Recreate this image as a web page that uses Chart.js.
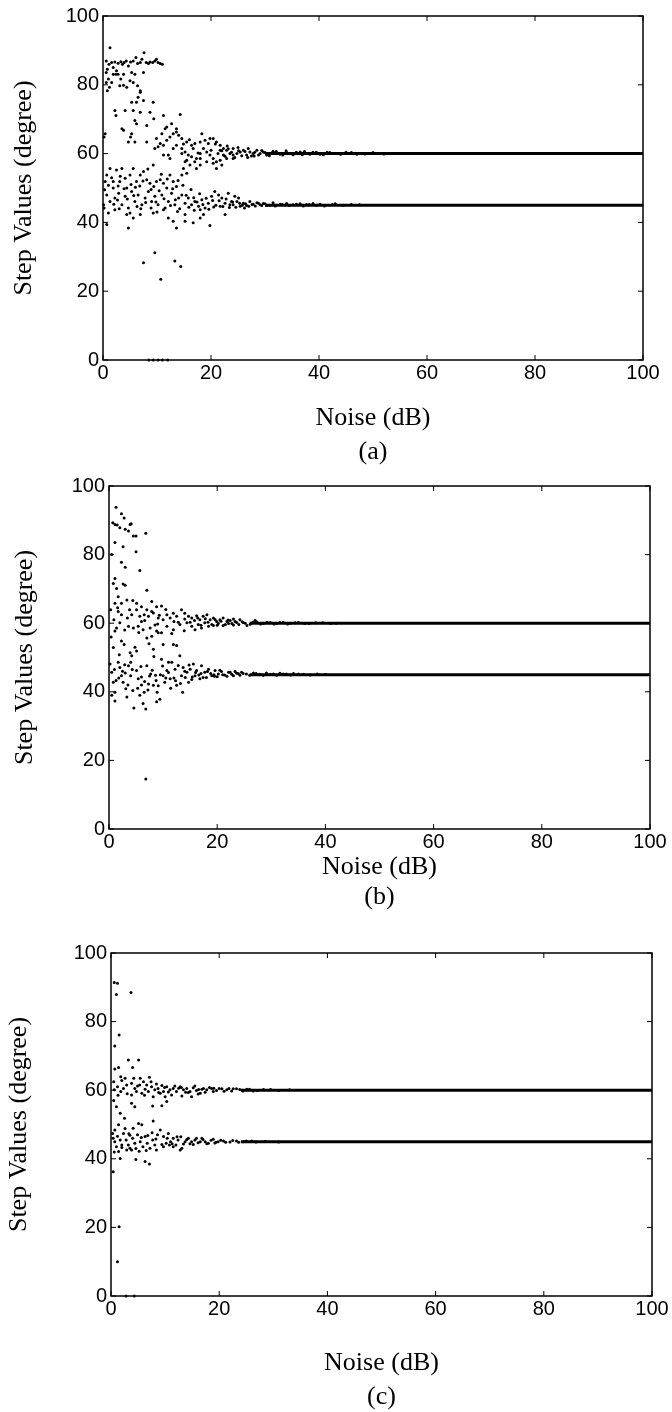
<!DOCTYPE html>
<html>
<head>
<meta charset="utf-8">
<script src="https://cdn.jsdelivr.net/npm/chart.js@4.4.1/dist/chart.umd.min.js"></script>
<style>
  html, body { margin: 0; padding: 0; background: #fff; overflow: hidden; }
  body { width: 672px; height: 1412px; position: relative; }
  .panel { position: absolute; left: 0; width: 672px; }
</style>
</head>
<body>
<div class="panel" style="top:0;height:490px"><canvas id="chartA"></canvas></div>
<div class="panel" style="top:470px;height:470px"><canvas id="chartB"></canvas></div>
<div class="panel" style="top:935px;height:490px"><canvas id="chartC"></canvas></div>
<script>
// axis ticks
const xTicks = [0, 20, 40, 60, 80, 100];
const yTicks = [0, 20, 40, 60, 80, 100];
// the two values every run settles on
const levels = [60, 45];
// noise level (dB) from which the estimates sit on the levels
const settleA = 30;
const settleB = 26;
const settleC = 24;

// (noise dB, step value degree)
const pointsA = [
  [0.6,86.9],[0.8,84.5],[1.1,86.0],[1.3,90.8],[1.6,86.5],[1.9,85.0],[2.2,86.6],[2.5,84.1],[2.8,86.3],[3.3,86.7],
  [3.6,86.0],[3.9,86.5],[4.3,86.9],[4.7,85.5],[5.1,86.6],[5.6,86.9],[6.1,87.9],[6.4,86.2],[6.9,86.5],[7.2,87.4],
  [7.6,89.3],[8.0,86.5],[8.4,86.2],[8.7,86.6],[9.2,86.5],[9.6,86.9],[9.9,87.4],[10.2,86.5],[10.6,86.2],[11.0,86.0],
  [0.6,80.7],[0.8,78.3],[1.2,79.3],[1.6,80.7],[1.9,83.1],[2.4,83.1],[2.8,83.1],[3.3,81.7],[3.8,83.1],[4.4,79.3],
  [5.0,81.2],[5.3,83.6],[5.9,83.1],[6.4,79.7],[6.9,78.3],[7.5,83.6],[0.6,83.6],[1.0,81.7],[3.1,79.7],[3.8,79.9],[5.6,80.7],
  [6.9,77.8],[6.5,76.4],[5.3,74.9],[6.2,74.9],[7.5,75.4],[9.3,74.9],[4.1,72.5],[2.2,72.5],[5.6,72.5],[6.9,72.0],
  [2.4,71.1],[8.7,72.0],[5.9,69.6],[6.2,68.7],[8.1,68.2],[9.4,70.1],[11.2,71.1],[14.3,71.4],[3.5,67.2],[3.8,66.8],
  [5.3,65.8],[5.1,64.8],[4.7,63.4],[5.9,63.4],[11.8,67.7],[12.7,68.7],[13.6,67.2],[0.4,65.8],[0.2,64.8],[8.1,63.4],
  [10.9,65.8],[11.5,67.2],
  [9.9,64.4],[10.6,62.9],[11.2,62.4],[11.8,63.9],[12.4,64.8],[13.0,65.8],[13.6,66.3],[14.0,65.3],[14.6,64.4],[15.5,63.4],
  [16.4,62.4],[17.0,62.9],[18.0,63.4],[18.9,63.9],[19.5,62.9],[20.4,64.4],[21.0,63.4],[21.7,62.4],[22.3,61.5],[22.9,61.0],
  [24.1,61.5],[25.4,60.5],[9.6,61.5],[10.2,62.0],[11.2,59.6],[12.1,59.6],[13.0,61.5],[13.6,62.4],[14.6,61.5],[15.2,60.5],
  [15.8,59.6],[16.4,59.1],[17.3,58.6],[18.0,60.0],[18.6,61.5],[19.2,60.5],[19.8,59.6],[20.4,58.6],[21.0,57.6],[21.7,58.1],
  [22.3,59.6],[22.9,58.6],[23.5,60.0],[24.1,59.6],[12.4,58.6],[15.5,58.1],[16.7,61.5],[18.3,65.8],[19.8,64.4],[21.7,61.0],
  [22.0,56.7],[21.0,55.7],[20.4,57.2],[19.2,57.6],[18.0,56.7],[15.2,57.6],[14.6,60.0],[17.3,55.7],[24.1,58.6],[24.8,60.0],
  [26.0,61.0],[26.6,59.6],[27.2,60.5],[27.8,60.0],[28.5,61.0],[29.1,60.0],[29.7,60.5],[30.3,59.6],[31.5,60.7],[32.8,59.8],
  [34.0,60.3],[35.2,59.7],[36.5,60.5],[37.7,60.0],[38.9,60.4],[40.2,59.8],[42.0,60.3],[44.0,59.8],[46.0,60.3],[48.5,59.9],
  [25.0,61.8],[26.8,58.9],[28.0,59.3],[23.0,62.2],[20.0,61.0],[17.6,60.2],[16.0,64.0],[14.9,62.8],
  [20.8,62.8],[21.3,60.0],[22.0,60.8],[22.6,59.2],[23.2,61.4],[23.8,60.4],[24.4,58.9],[25.1,60.8],[25.7,59.4],[26.3,60.6],
  [26.9,61.5],[27.5,59.3],[28.1,60.4],[28.8,59.6],[29.4,60.9],[30.0,60.3],[30.8,59.4],[31.2,60.2],[32.1,60.6],[33.3,59.6],
  [33.9,60.8],[34.6,60.0],[35.8,60.4],[36.9,59.7],[37.3,60.6],[38.3,59.8],[39.5,60.4],[40.8,59.7],[41.5,60.4],[43.0,60.0],
  [45.0,60.4],[47.0,59.8],[50.0,60.3],[52.0,59.9],
  [0.4,51.9],[0.7,53.8],[1.3,55.7],[1.9,51.9],[2.5,55.2],[3.1,51.9],[3.5,55.7],[4.1,52.8],[4.4,50.0],[5.0,53.8],
  [5.6,55.7],[6.2,51.9],[6.9,53.8],[7.5,54.8],[8.1,52.4],[8.7,51.4],[9.3,56.7],[9.9,51.9],[10.6,52.4],[11.2,51.4],
  [11.8,50.0],[12.4,53.8],[13.0,51.9],[13.6,50.4],[14.6,53.8],[14.9,55.7],[15.5,54.3],[16.1,56.7],[17.0,57.6],[18.0,58.6],
  [0.7,48.0],[1.3,46.1],[1.9,50.0],[2.2,47.1],[2.9,48.5],[3.5,45.1],[4.1,47.6],[4.7,44.2],[5.3,49.0],[5.9,46.1],
  [6.5,48.0],[7.2,45.1],[7.8,47.1],[8.4,49.0],[9.0,46.1],[9.6,47.6],[10.2,45.1],[10.9,48.0],[11.5,44.2],[12.1,46.1],
  [12.7,48.5],[13.3,45.1],[14.0,47.1],[14.6,48.0],[15.2,45.6],[15.8,47.1],[16.4,45.1],[17.0,46.1],[17.7,44.7],[18.3,46.6],
  [18.9,44.2],[19.5,45.6],[20.1,47.6],[20.7,49.0],[21.4,48.0],[22.0,47.1],[22.6,45.6],[23.2,48.5],[23.8,46.1],
  [0.1,45.1],[0.2,44.2],[1.0,42.7],[2.2,43.7],[4.4,42.3],[5.0,42.7],[5.6,41.3],[6.9,42.3],[9.3,42.7],[11.2,43.7],
  [12.1,41.3],[13.0,40.3],[13.6,38.4],[15.2,42.3],[18.0,41.3],[18.6,42.3],[19.8,39.1],[18.0,43.7],[4.7,38.4],[0.7,39.4],
  [15.2,40.3],[16.7,39.9],[2.8,50.6],[6.0,50.2],[8.9,49.6],[3.0,44.0],[7.0,44.0],[10.0,43.0],[13.8,43.2],[16.9,43.5],
  [0.3,49.5],[1.0,50.8],[1.6,53.0],[2.0,45.3],[2.7,46.5],[3.2,53.4],[3.9,49.8],[4.5,46.8],[5.2,51.0],[5.7,47.8],
  [6.3,44.6],[6.8,50.6],[7.4,52.0],[7.9,45.8],[8.3,55.5],[8.9,44.2],[9.4,50.4],[9.8,45.9],[10.4,49.2],[10.8,54.0],
  [11.3,46.9],[11.9,52.6],[12.5,44.9],[12.9,49.8],[13.4,46.6],[13.9,52.2],[14.2,44.0],[14.8,50.8],[15.4,47.9],[15.9,44.4],
  [16.3,49.6],[16.8,47.2],[17.4,45.9],[17.9,48.3],[18.5,45.2],[19.1,47.0],[19.6,43.8],[20.3,46.4],[20.9,45.0],[21.5,46.3],
  [22.2,44.6],[22.8,46.8],[23.4,44.3],[24.0,45.9],[24.6,44.4],[25.3,45.6],[25.8,45.0],[26.4,45.4],[27.0,44.7],[27.6,45.2],
  [28.2,44.8],[28.8,45.6],[29.4,44.9],[30.0,45.4],[30.9,45.0],[31.9,44.8],[33.2,45.2],[34.5,44.9],[35.8,45.3],[37.1,44.8],
  [38.2,45.2],[39.6,45.0],[41.0,44.8],[42.5,45.2],[44.5,45.0],[47.5,45.1],
  [24.1,45.1],[24.8,46.1],[25.4,44.7],[26.0,45.6],[26.6,44.9],[27.2,46.1],[27.8,45.3],[28.5,45.7],[29.1,45.1],[29.7,45.5],
  [30.3,44.9],[31.5,45.7],[32.8,45.3],[34.0,45.5],[35.2,45.1],[36.5,45.4],[37.7,45.2],[38.9,45.5],[40.2,45.3],[43.0,45.4],
  [46.0,45.2],[22.6,42.3],[21.7,44.7],[23.5,45.1],[24.4,47.6],[25.1,47.1],[26.2,44.2],[20.5,44.5],
  [7.5,28.3],[9.6,31.2],[10.7,23.5],[13.3,28.8],[14.4,27.2],
  [8.5,0],[9.3,0],[10.2,0],[11.0,0],[12.0,0]
];

// (noise dB, step value degree)
const pointsB = [
  [1.3,93.8],[2.3,91.9],[2.8,90.7],[0.7,89.3],[1.1,88.8],[1.5,88.6],[2.0,87.8],[3.0,87.4],[3.6,86.9],[3.9,88.8],
  [4.1,89.0],[4.5,85.4],[5.0,85.4],[6.8,86.2],[1.1,83.5],[2.6,82.3],[5.0,80.8],[0.5,80.0],[2.3,77.8],[3.0,76.3],
  [5.7,75.4],[1.1,73.0],[0.8,71.6],[2.6,71.4],[3.0,71.1],[1.4,70.1],[7.0,69.6],[1.7,67.7],[1.1,65.8],[7.9,66.3],[0.3,63.9],
  [3.3,66.8],[4.4,66.6],[5.1,65.8],[6.0,64.8],[7.0,63.9],[7.9,63.4],[8.8,64.8],[9.7,65.0],[1.7,63.4],[2.3,62.5],
  [3.8,63.9],[4.2,62.5],[5.1,63.9],[5.7,62.0],[6.5,62.5],[7.3,62.0],[8.2,63.0],[9.1,61.5],[10.0,61.0],[10.7,62.5],
  [11.3,61.5],[11.9,62.9],[12.5,62.0],[13.4,63.9],[14.0,62.9],[14.7,62.0],[15.3,61.5],[16.2,62.2],[16.8,61.0],[17.4,62.0],
  [18.1,62.5],[18.7,61.0],[19.3,61.5],[19.9,60.5],[20.5,61.0],[21.1,61.5],[21.8,60.5],[22.4,60.8],[23.0,61.2],[23.6,60.2],
  [24.2,61.0],[2.0,60.1],[3.6,59.1],[4.5,58.6],[5.4,59.1],[6.3,58.1],[7.6,58.6],[8.8,57.7],[9.7,57.2],[10.7,59.1],
  [11.9,58.1],[13.1,59.6],[14.4,60.1],[15.3,59.1],[15.9,58.1],[16.5,59.6],[17.1,58.6],[17.7,60.1],[18.4,59.1],[19.3,59.3],
  [20.2,59.9],[21.1,59.3],[22.1,59.9],[23.0,59.5],[1.4,58.6],[1.1,57.7],[7.0,55.7],[7.9,56.2],[9.1,57.2],[10.0,53.8],
  [8.2,52.4],[0.8,52.9],[2.3,54.8],[2.8,53.8],[3.9,51.4],[4.2,50.5],[5.1,51.9],[9.7,49.5],[8.3,50.3],[11.9,53.8],[12.5,53.5],
  [24.8,60.2],[26.1,59.7],[27.3,60.4],[28.5,59.9],[29.8,60.2],[31.0,59.9],[32.2,60.3],[33.5,60.0],[35.0,60.2],[37.0,59.9],
  [39.5,60.1],[42.0,60.0],[25.5,59.3],[27.0,60.8],[12.0,60.5],[14.0,61.2],[6.0,60.5],[9.0,59.8],
  [15.0,60.3],[15.8,60.8],[16.4,61.5],[17.0,59.4],[17.8,61.3],[18.3,60.3],[19.0,59.6],[19.6,61.1],[20.0,59.4],[20.7,60.6],
  [21.5,59.6],[22.0,60.9],[22.7,59.9],[23.3,60.5],[24.0,59.6],[24.6,60.4],[25.2,60.0],[26.6,60.3],[28.0,59.8],[29.2,60.3],
  [30.5,59.8],[31.6,60.2],[33.0,59.8],[34.4,60.1],[36.2,59.9],[38.2,60.1],[41.0,59.9],
  [1.9,50.8],[2.9,58.0],[3.4,61.5],[4.8,53.0],[5.5,57.3],[6.6,60.8],[7.4,54.0],[8.5,59.5],[9.3,62.3],[10.5,64.0],
  [11.6,57.0],[12.8,60.3],[13.9,57.8],[0.4,56.0],[0.9,61.0],[1.6,64.5],[2.3,65.8],
  [0.2,48.1],[0.5,45.7],[0.8,42.8],[1.1,39.9],[1.1,37.3],[1.7,48.6],[2.0,47.1],[2.3,44.7],[2.6,42.8],[3.1,40.9],
  [3.3,38.5],[3.6,47.6],[4.0,44.7],[4.4,40.4],[4.6,35.3],[5.1,46.2],[5.4,43.8],[5.7,39.0],[6.0,44.3],[6.3,36.6],
  [6.5,39.9],[6.8,35.0],[7.0,47.6],[7.3,42.3],[7.7,45.2],[8.2,41.9],[8.7,43.3],[8.9,39.9],[9.4,37.8],[10.0,44.7],
  [10.3,42.8],[10.7,46.2],[11.0,48.6],[11.3,43.8],[11.6,48.6],[12.2,46.6],[12.5,41.9],[13.1,50.5],[13.4,44.7],[13.7,47.1],
  [14.4,45.7],[14.7,42.8],[15.0,46.6],[15.6,48.1],[15.9,44.7],[16.2,46.2],[16.8,43.8],[17.1,47.6],[17.7,45.7],[18.4,46.6],
  [19.0,44.7],[19.6,46.2],[20.2,45.2],[20.8,45.9],[21.4,44.9],[22.1,45.7],[22.7,45.1],[23.3,45.9],[23.9,45.3],[24.5,45.7],
  [25.4,45.2],[26.7,45.5],[27.9,45.1],[29.1,45.5],[30.4,45.2],[31.6,45.4],[32.8,45.2],[34.1,45.3],[36.0,45.1],[38.5,45.2],
  [0.5,39.0],[1.3,43.3],[4.0,48.6],[8.8,37.1],[13.6,39.9],[3.0,45.5],[6.0,42.0],[9.5,45.0],[12.0,44.0],[15.3,43.6],
  [18.0,44.2],[2.5,46.0],[7.5,44.6],[11.0,45.6],[14.0,46.0],[17.0,45.3],[19.5,44.5],
  [15.4,44.3],[16.0,45.6],[16.6,44.9],[17.4,44.2],[18.2,45.9],[18.8,45.3],[19.4,45.0],[20.0,44.4],[20.5,46.3],[21.0,45.0],
  [21.8,44.5],[22.4,45.7],[23.0,44.7],[23.6,45.4],[24.2,44.8],[24.8,45.3],[26.0,44.8],[27.2,45.3],[28.5,44.8],[29.8,45.1],
  [31.0,44.8],[32.2,45.2],[33.6,44.9],[35.0,45.2],[37.2,44.9],[40.0,45.1],
  [1.0,46.5],[1.8,44.0],[2.9,47.9],[3.5,42.0],[4.3,46.5],[5.3,41.0],[5.9,47.4],[6.6,43.0],[7.2,40.5],[8.0,46.3],
  [8.6,44.8],[9.1,41.8],[9.9,47.5],[10.5,44.0],[11.4,41.0],[12.3,43.2],[12.8,47.7],[13.2,42.4],[14.1,44.2],[14.8,47.8],
  [6.8,14.6]
];

// (noise dB, step value degree)
const pointsC = [
  [0.6,91.4],[1.2,91.2],[1.0,87.9],[3.7,88.5],[1.5,76.1],[0.7,72.9],[0.7,66.2],[1.4,66.6],[3.2,68.8],[4.0,66.6],
  [5.1,68.8],[1.8,63.9],[2.6,63.5],[2.9,61.5],[2.3,60.5],[1.8,59.6],[0.6,60.1],[3.8,62.0],[4.4,60.5],[5.4,63.5],
  [6.0,62.5],[6.6,61.5],[7.1,63.8],[7.5,61.0],[8.1,60.1],[8.7,60.5],[9.7,59.6],[10.3,61.0],[10.9,60.1],[11.5,60.5],
  [12.1,59.6],[12.8,61.0],[13.4,60.1],[14.0,60.5],[14.6,59.6],[15.2,60.7],[15.8,59.9],[16.5,59.1],[17.1,60.5],[17.7,60.1],
  [18.6,60.5],[19.5,59.9],[20.5,60.4],[21.4,60.1],[22.6,60.4],[23.8,60.2],[25.1,60.3],[3.8,58.6],[4.7,59.6],[5.7,59.1],
  [6.9,59.6],[7.8,58.1],[9.1,59.1],[10.0,58.1],[11.2,58.6],[13.1,58.3],[14.9,58.1],[16.1,58.9],[0.5,62.5],[1.2,61.0],
  [4.9,61.2],[6.3,60.3],[8.4,61.8],[9.9,60.8],[12.5,60.6],[13.8,59.4],[16.8,60.3],[19.0,60.6],[27.0,59.9],[29.5,60.2],
  [8.8,59.3],[9.4,61.4],[10.6,59.5],[11.8,61.2],[13.0,60.8],[14.3,59.3],[15.5,61.2],[16.2,60.2],[17.4,59.4],[18.2,60.8],
  [18.9,59.6],[20.0,60.5],[20.9,59.7],[21.8,60.5],[22.3,59.8],[23.2,60.4],[24.4,59.8],[25.6,60.3],[26.3,59.8],[28.2,60.2],
  [31.0,59.9],[33.0,60.1],
  [0.5,57.0],[1.3,58.5],[2.0,62.8],[3.0,59.0],[4.2,63.5],[5.3,61.5],[6.2,58.5],[7.4,62.5],
  [1.0,55.2],[1.7,53.3],[2.5,51.8],[3.8,56.2],[4.4,55.2],[5.1,50.3],[5.7,49.9],[3.5,46.9],[0.7,48.4],[1.4,49.9],
  [4.1,48.9],[7.7,55.4],[9.4,55.5],[10.3,56.7],[7.8,51.0],
  [0.3,47.4],[0.4,46.0],[0.7,45.0],[1.2,46.6],[1.7,45.5],[2.0,44.0],[2.3,47.4],[2.8,45.5],[3.2,44.0],[3.5,43.1],
  [4.0,46.0],[4.4,44.5],[4.9,47.0],[5.4,45.0],[5.9,43.5],[6.3,46.5],[6.7,44.5],[7.2,43.1],[7.7,45.5],[8.1,44.0],
  [8.6,47.0],[9.1,48.4],[9.7,46.5],[10.2,44.5],[10.6,47.4],[11.0,45.0],[11.5,46.0],[12.0,44.0],[12.4,45.5],[13.1,43.1],
  [13.7,45.0],[14.3,46.0],[14.9,45.0],[15.5,45.5],[16.1,44.7],[16.8,46.0],[17.4,45.0],[18.0,44.5],[18.9,45.7],[19.8,45.0],
  [20.8,45.2],[22.0,44.9],[23.2,45.2],[24.5,45.0],[26.0,45.2],[1.4,42.1],[2.9,42.6],[1.7,40.1],[4.6,39.8],[6.3,39.2],
  [7.1,38.5],[0.4,36.2],[2.0,43.3],[3.8,42.6],[12.8,42.6],[8.4,42.6],[9.7,43.5],[11.5,43.5],[5.2,42.2],[6.8,46.8],
  [10.8,44.0],[12.9,46.4],[14.6,44.4],[17.0,45.6],[19.2,44.6],
  [9.4,44.2],[10.4,46.0],[11.3,44.4],[12.2,46.4],[13.4,44.3],[14.0,45.6],[15.2,44.2],[15.8,46.0],[16.5,45.0],[17.7,44.4],
  [18.5,45.4],[19.4,44.8],[20.3,45.4],[21.2,44.8],[22.5,45.3],[23.6,44.8],[25.0,45.2],[26.8,44.9],[28.5,45.1],[31.0,44.9],
  [2.6,48.8],[3.3,47.3],[4.6,43.0],[5.6,46.2],[6.5,42.4],[7.6,47.6],[8.3,45.8],[1.0,43.5],[0.6,42.0],
  [1.5,20.2],[1.2,10.0],[2.8,0],[4.3,0]
];

const tickFont = "'Liberation Sans', Arial, sans-serif";
const titleFont = "'Liberation Serif', 'Times New Roman', serif";

// box with inward tick marks on all four sides, MATLAB style
const frameTicks = {
  id: 'frameTicks',
  beforeDatasetsDraw(chart) {
    const { ctx, chartArea: a, scales: { x, y } } = chart;
    ctx.save();
    ctx.strokeStyle = '#000';
    ctx.lineWidth = 1.5;
    ctx.strokeRect(a.left, a.top, a.right - a.left, a.bottom - a.top);
    ctx.lineWidth = 1;
    ctx.beginPath();
    xTicks.forEach(v => {
      const px = x.getPixelForValue(v);
      ctx.moveTo(px, a.bottom); ctx.lineTo(px, a.bottom - 5);
      ctx.moveTo(px, a.top); ctx.lineTo(px, a.top + 5);
    });
    yTicks.forEach(v => {
      const py = y.getPixelForValue(v);
      ctx.moveTo(a.left, py); ctx.lineTo(a.left + 5, py);
      ctx.moveTo(a.right, py); ctx.lineTo(a.right - 5, py);
    });
    ctx.stroke();
    ctx.restore();
  }
};

function makeChart(id, points, settle, tag, box) {
  const canvas = document.getElementById(id);
  const H = canvas.parentNode.clientHeight;
  const lines = levels.map(lv => ({
    data: [{ x: settle, y: lv }, { x: 100, y: lv }],
    showLine: true, borderColor: '#000', borderWidth: 3, pointRadius: 0
  }));
  return new Chart(canvas, {
    type: 'scatter',
    data: {
      datasets: [{
        data: points.map(p => ({ x: p[0], y: p[1] })),
        pointRadius: 1.5, backgroundColor: '#000', borderWidth: 0, clip: 6
      }, ...lines]
    },
    options: {
      responsive: true,
      maintainAspectRatio: false,
      animation: false,
      events: [],
      layout: { padding: { left: 0, top: box.top, right: 672 - box.right, bottom: 0 } },
      plugins: { legend: { display: false }, tooltip: { enabled: false } },
      scales: {
        x: {
          type: 'linear', min: 0, max: 100,
          grid: { display: false, drawTicks: false },
          border: { display: false },
          afterBuildTicks: s => { s.ticks = xTicks.map(v => ({ value: v })); },
          afterFit: s => { s.height = H - box.bottom; },
          ticks: { color: '#000', font: { family: tickFont, size: 20 }, padding: 1, maxRotation: 0, autoSkip: false },
          title: {
            display: true, text: ['Noise (dB)', tag], color: '#000',
            font: { family: titleFont, size: 26, lineHeight: box.xTitleLine },
            padding: { top: 0, bottom: box.xTitlePad }
          }
        },
        y: {
          type: 'linear', min: 0, max: 100,
          grid: { display: false, drawTicks: false },
          border: { display: false },
          afterBuildTicks: s => { s.ticks = yTicks.map(v => ({ value: v })); },
          afterFit: s => { s.width = box.left; },
          ticks: { color: '#000', font: { family: tickFont, size: 20 }, padding: 4 },
          title: {
            display: true, text: 'Step Values (degree)', color: '#000',
            font: { family: titleFont, size: 26, lineHeight: 1.2 },
            padding: { top: box.yTitlePad, bottom: 0 }
          }
        }
      }
    },
    plugins: [frameTicks]
  });
}

makeChart('chartA', pointsA, settleA, '(a)', { left: 103, right: 643, top: 13, bottom: 360, xTitlePad: 21, xTitleLine: 1.3, yTitlePad: 9 });
makeChart('chartB', pointsB, settleB, '(b)', { left: 109, right: 650, top: 11, bottom: 359, xTitlePad: 28, xTitleLine: 1.15, yTitlePad: 10 });
makeChart('chartC', pointsC, settleC, '(c)', { left: 111, right: 652, top: 18, bottom: 361, xTitlePad: 11, xTitleLine: 1.3, yTitlePad: 4 });
</script>
</body>
</html>
